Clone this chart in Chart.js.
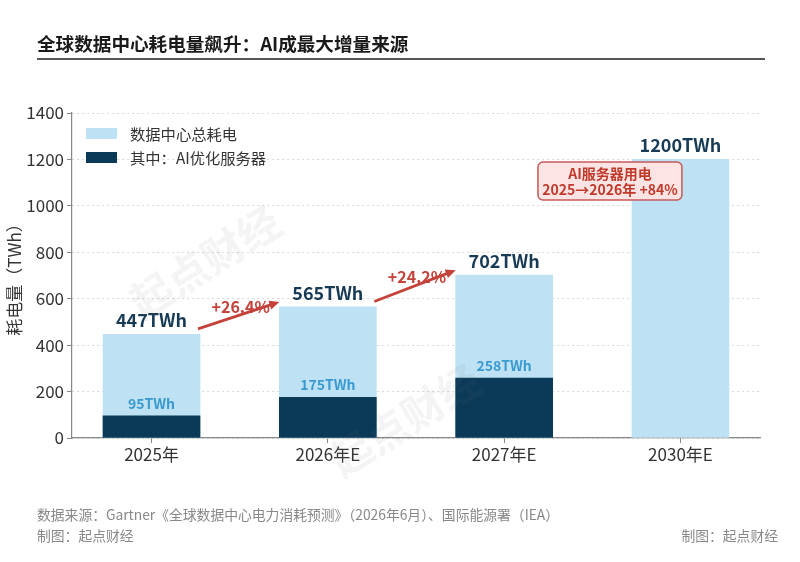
<!DOCTYPE html>
<html>
<head>
<meta charset="utf-8">
<script src="https://cdn.jsdelivr.net/npm/chart.js@4/dist/chart.umd.min.js"></script>
<style>
  body { margin: 0; background: #fff; font-family: "Noto Sans CJK SC", "Noto Sans", sans-serif; }
  #wrap { position: relative; width: 800px; height: 562px; overflow: hidden; }
  #c { position: absolute; left: 0; top: 0; }
  .title { position: absolute; left: 37px; top: 29px; font-size: 18.6px; font-weight: bold; color: #1a1a1a; }
  .rule { position: absolute; left: 37px; top: 58px; width: 728px; border-top: 2px solid #555; }
  .foot { position: absolute; font-size: 13.8px; color: #888; }
</style>
</head>
<body>
<div id="wrap">
  <canvas id="c" width="800" height="562"></canvas>
  <div class="title">全球数据中心耗电量飙升：AI成最大增量来源</div>
  <div class="rule"></div>
  <div class="foot" style="left:37px; top:504px;">数据来源：Gartner《全球数据中心电力消耗预测》（2026年6月）、国际能源署（IEA）</div>
  <div class="foot" style="left:37px; top:525px;">制图：起点财经</div>
  <div class="foot" style="right:22px; top:525px;">制图：起点财经</div>
</div>
<script>
// data
var categories = ['2025年', '2026年E', '2027年E', '2030年E'];
var totalPower = [447, 565, 702, 1200];
var aiServerPower = [95, 175, 258, null];
var growthLabels = ['+26.4%', '+24.2%'];
var yTicks = [0, 200, 400, 600, 800, 1000, 1200, 1400];
var noteLines = ['AI服务器用电', '2025→2026年 +84%'];

var LIGHT = '#bee2f4';
var DARK = '#0b3a59';
var RED = '#c4423a';
var FONT = '"Noto Sans CJK SC", "Noto Sans", sans-serif';
var BAR_W = 97;

function points(arr) {
    return arr.map(function (v, i) { return { x: i, y: v }; }).filter(function (p) { return p.y !== null; });
}

var overlayPlugin = {
    id: 'overlay',
    afterDatasetsDraw: function (chart) {
        var ctx = chart.ctx, x = chart.scales.x, y = chart.scales.y, area = chart.chartArea;
        ctx.save();

        // value labels
        ctx.textAlign = 'center';
        ctx.textBaseline = 'alphabetic';
        totalPower.forEach(function (v, i) {
            ctx.fillStyle = '#173a55';
            ctx.font = 'bold 18px ' + FONT;
            ctx.fillText(v + 'TWh', x.getPixelForValue(i), y.getPixelForValue(v) - 7);
        });
        aiServerPower.forEach(function (v, i) {
            if (v === null) return;
            ctx.fillStyle = '#3a9ad0';
            ctx.font = 'bold 14px ' + FONT;
            ctx.fillText(v + 'TWh', x.getPixelForValue(i), y.getPixelForValue(v) - 7);
        });

        // growth arrows
        growthLabels.forEach(function (lab, i) {
            var x0 = x.getPixelForValue(i) + BAR_W / 2 - 2;
            var y0 = y.getPixelForValue(totalPower[i] + 23);
            var x1 = x.getPixelForValue(i + 1) - BAR_W / 2;
            var y1 = y.getPixelForValue(totalPower[i + 1] + 21);
            var ang = Math.atan2(y1 - y0, x1 - x0);
            ctx.strokeStyle = RED;
            ctx.fillStyle = RED;
            ctx.lineWidth = 2.8;
            ctx.beginPath();
            ctx.moveTo(x0, y0);
            ctx.lineTo(x1 - 7 * Math.cos(ang), y1 - 7 * Math.sin(ang));
            ctx.stroke();
            ctx.beginPath();
            ctx.moveTo(x1, y1);
            ctx.lineTo(x1 - 10 * Math.cos(ang) + 4.5 * Math.sin(ang), y1 - 10 * Math.sin(ang) - 4.5 * Math.cos(ang));
            ctx.lineTo(x1 - 10 * Math.cos(ang) - 4.5 * Math.sin(ang), y1 - 10 * Math.sin(ang) + 4.5 * Math.cos(ang));
            ctx.closePath();
            ctx.fill();
            ctx.font = 'bold 16px ' + FONT;
            ctx.textBaseline = 'middle';
            ctx.fillText(lab, (x0 + x1) / 2 + 2, (y0 + y1) / 2 - 9);
        });

        // note box
        var cx = x.getPixelForValue(2.6), cy = y.getPixelForValue(1107);
        var bw = 144, bh = 38;
        ctx.beginPath();
        ctx.roundRect(cx - bw / 2, cy - bh / 2, bw, bh, 5);
        ctx.fillStyle = '#fce4e4';
        ctx.fill();
        ctx.strokeStyle = '#c55a58';
        ctx.lineWidth = 1.5;
        ctx.stroke();
        ctx.fillStyle = '#c0392b';
        ctx.font = 'bold 14px ' + FONT;
        ctx.textBaseline = 'middle';
        ctx.fillText(noteLines[0], cx, cy - 7);
        ctx.fillText(noteLines[1], cx, cy + 9);

        // legend
        var lx = area.left + 14, ly = area.top + 15;
        [[LIGHT, '数据中心总耗电'], [DARK, '其中：AI优化服务器']].forEach(function (it, k) {
            ctx.fillStyle = it[0];
            ctx.fillRect(lx, ly + k * 24, 31, 11);
            ctx.fillStyle = '#333';
            ctx.font = '15.3px ' + FONT;
            ctx.textAlign = 'left';
            ctx.fillText(it[1], lx + 44, ly + k * 24 + 6);
        });

        // watermark
        ctx.fillStyle = 'rgba(120,120,120,0.08)';
        ctx.font = 'bold 42px ' + FONT;
        ctx.textAlign = 'center';
        [[205, 262], [405, 420]].forEach(function (p) {
            ctx.save();
            ctx.translate(p[0], p[1]);
            ctx.rotate(-32 * Math.PI / 180);
            ctx.fillText('起点财经', 0, 0);
            ctx.restore();
        });

        ctx.restore();
    }
};

new Chart(document.getElementById('c').getContext('2d'), {
    type: 'bar',
    data: {
        datasets: [{
            label: '数据中心总耗电',
            data: points(totalPower),
            backgroundColor: LIGHT,
            order: 1
        }, {
            label: '其中：AI优化服务器',
            data: points(aiServerPower),
            backgroundColor: DARK,
            order: 0
        }]
    },
    options: {
        responsive: false,
        animation: false,
        layout: { padding: { left: 0, right: 40, top: 113, bottom: 0 } },
        datasets: { bar: { grouped: false, barThickness: BAR_W } },
        plugins: { legend: { display: false }, tooltip: { enabled: false } },
        scales: {
            x: {
                type: 'linear',
                offset: false,
                min: -0.451,
                max: 3.451,
                afterFit: function (s) { s.height = 124; },
                afterBuildTicks: function (s) { s.ticks = categories.map(function (c, i) { return { value: i }; }); },
                ticks: {
                    callback: function (v) { return categories[v]; },
                    font: { family: FONT, size: 17 },
                    color: '#333',
                    padding: 1
                },
                grid: { offset: false, drawOnChartArea: false, tickLength: 5, color: '#888' },
                border: { color: '#888', width: 1.2 }
            },
            y: {
                min: 0,
                max: 1400,
                afterFit: function (s) { s.width = 72; },
                afterBuildTicks: function (s) { s.ticks = yTicks.map(function (v) { return { value: v }; }); },
                ticks: {
                    callback: function (v) { return String(v); },
                    font: { family: FONT, size: 17 },
                    color: '#333',
                    padding: 3
                },
                grid: { color: '#d8d8d8', tickLength: 5, tickColor: '#888', tickBorderDash: [] },
                border: { color: '#888', width: 1.2, dash: [2, 3] },
                title: { display: true, text: '耗电量（TWh）', font: { family: FONT, size: 17 }, color: '#333' }
            }
        }
    },
    plugins: [overlayPlugin]
});
</script>
</body>
</html>
